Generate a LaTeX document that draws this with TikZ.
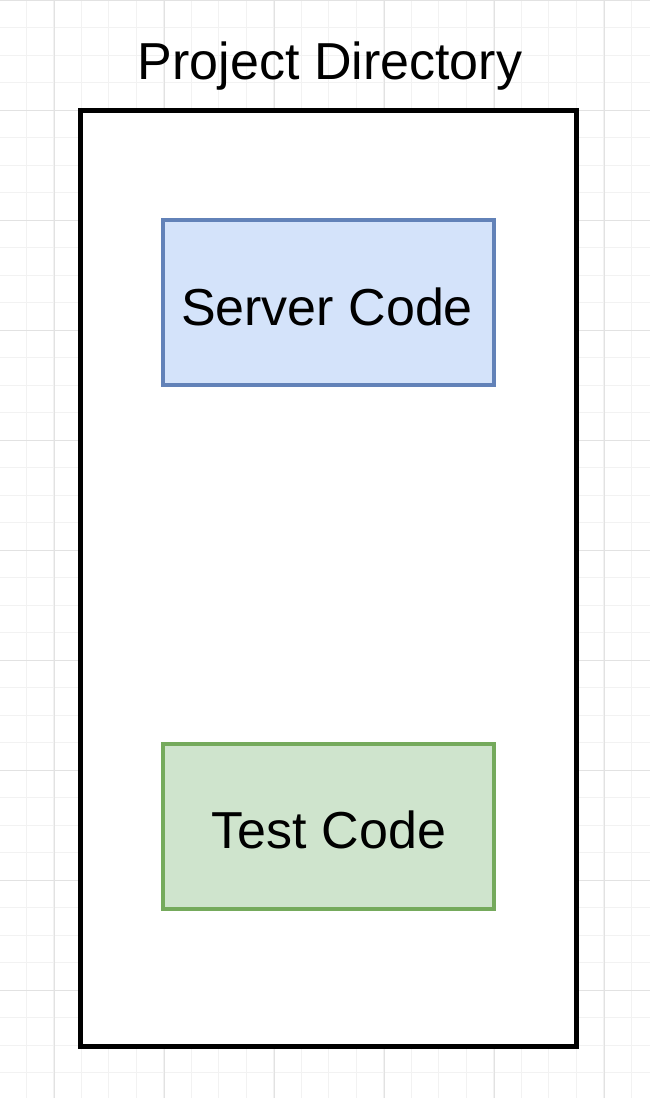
\documentclass[tikz,border=0pt]{standalone}
\usepackage{fontspec}
\setmainfont{Liberation Sans}
\definecolor{gridmajor}{HTML}{E2E2E2}
\definecolor{gridminor}{HTML}{F2F2F2}
\definecolor{blfill}{HTML}{D4E3FA}
\definecolor{bldraw}{HTML}{6282B8}
\definecolor{grfill}{HTML}{CFE4CD}
\definecolor{grdraw}{HTML}{75AA5C}
\tikzset{
  codebox/.style={rectangle, minimum width=331pt, minimum height=165pt, line width=4pt, inner sep=0pt},
  serverbox/.style={codebox, draw=bldraw, fill=blfill},
  testbox/.style={codebox, draw=grdraw, fill=grfill},
  dirbox/.style={draw=black, line width=5pt, fill=white},
  bigtext/.style={anchor=base, inner sep=0pt, font=\fontsize{52}{60}\selectfont},
}
\begin{document}
\begin{tikzpicture}[x=1pt,y=-1pt]
\useasboundingbox (0,0) rectangle (650,1098);
\fill[white] (0,0) rectangle (650,1098);
% minor grid
\foreach \i in {0,...,24} {
  \draw[gridminor, line width=1pt] ({-1.5+27.5*\i},0) -- ({-1.5+27.5*\i},1098);
}
\foreach \i in {0,...,40} {
  \draw[gridminor, line width=1pt] (0,{27.5*\i}) -- (650,{27.5*\i});
}
% major grid
\foreach \i in {0,...,5} {
  \draw[gridmajor, line width=1pt] ({54+110*\i},0) -- ({54+110*\i},1098);
}
\foreach \i in {0,...,9} {
  \draw[gridmajor, line width=1pt] (0,{110*\i}) -- (650,{110*\i});
}
% directory
\draw[dirbox] (80.5,110.5) rectangle (576.5,1046.5);
\node[bigtext] (title) at (330,79.5) {Project Directory};
\node[serverbox] (server) at (328.5,302.5) {};
\node[bigtext] (servertext) at (327,325) {Server Code};
\node[testbox] (test) at (328.5,826) {};
\node[bigtext] (testtext) at (329,848) {Test Code};
\end{tikzpicture}
\end{document}
